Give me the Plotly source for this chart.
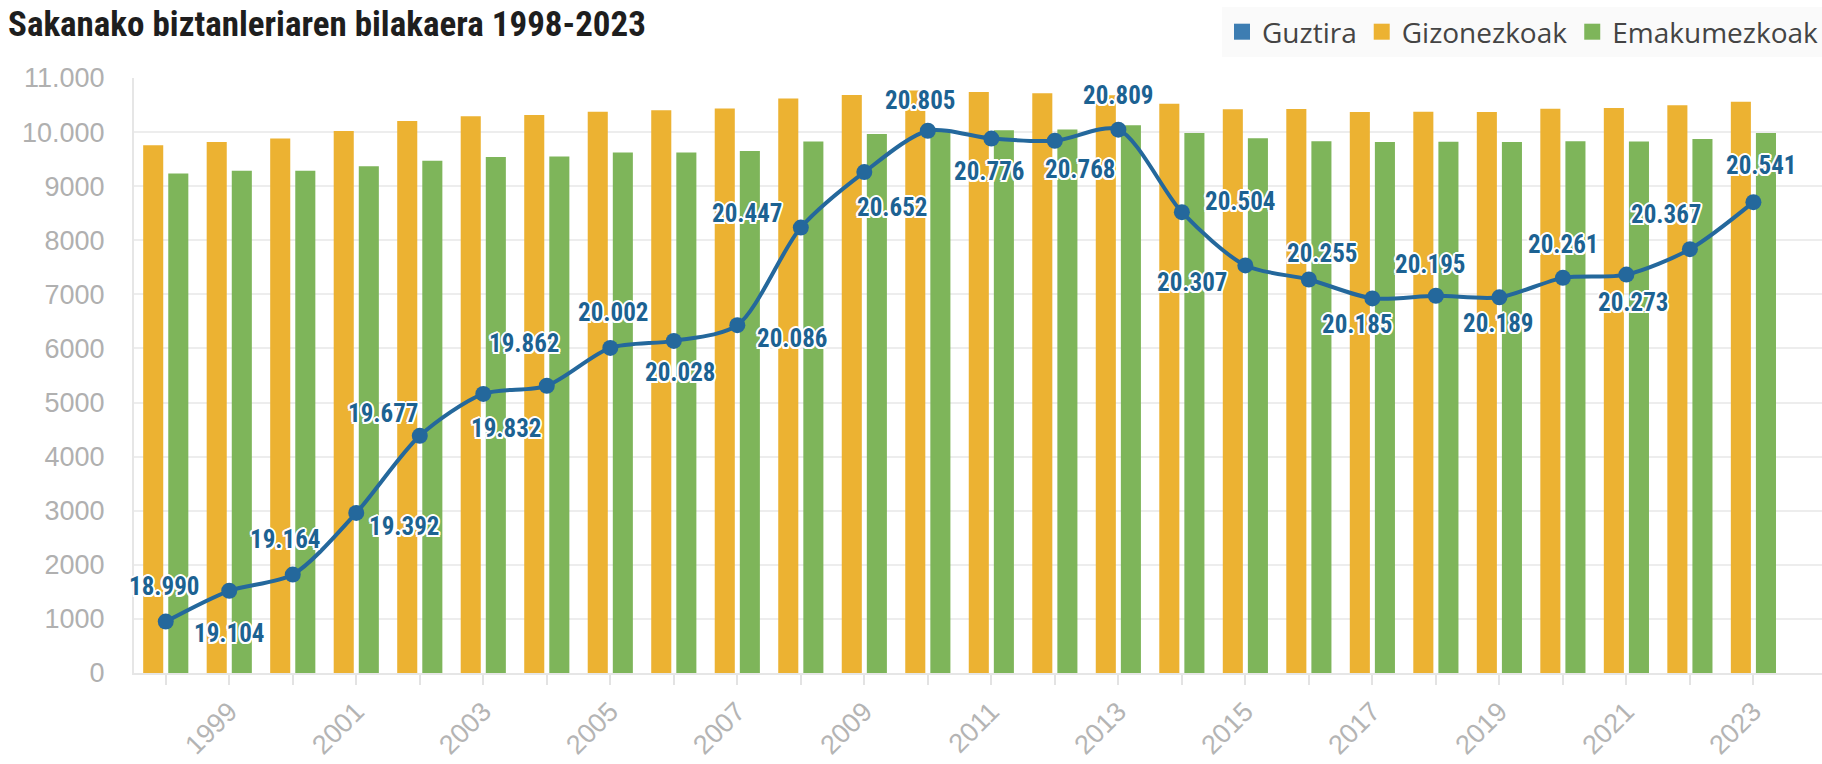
import plotly.graph_objects as go

# ---------------- data ----------------
years = [1998, 1999, 2000, 2001, 2002, 2003, 2004, 2005, 2006, 2007, 2008, 2009, 2010,
         2011, 2012, 2013, 2014, 2015, 2016, 2017, 2018, 2019, 2020, 2021, 2022, 2023]
guztira = [18990, 19104, 19164, 19392, 19677, 19832, 19862, 20002, 20028, 20086, 20447, 20652, 20805,
           20776, 20768, 20809, 20504, 20307, 20255, 20185, 20195, 20189, 20261, 20273, 20367, 20541]
gizonezkoak = [9757, 9818, 9880, 10022, 10206, 10292, 10315, 10377, 10404, 10436, 10620, 10685, 10770,
               10741, 10720, 10683, 10522, 10420, 10425, 10370, 10375, 10372, 10430, 10445, 10495, 10560]
emakumezkoak = [9233, 9286, 9284, 9370, 9471, 9540, 9547, 9625, 9624, 9650, 9827, 9967, 10035,
                10035, 10048, 10126, 9982, 9887, 9830, 9815, 9820, 9817, 9831, 9828, 9872, 9981]

series_names = ["Guztira", "Gizonezkoak", "Emakumezkoak"]

y_tick_vals = [0, 1000, 2000, 3000, 4000, 5000, 6000, 7000, 8000, 9000, 10000, 11000]
y_tick_text = ["0", "1000", "2000", "3000", "4000", "5000", "6000", "7000", "8000", "9000", "10.000", "11.000"]
x_tick_text = ["", "1999", "", "2001", "", "2003", "", "2005", "", "2007", "", "2009", "",
               "2011", "", "2013", "", "2015", "", "2017", "", "2019", "", "2021", "", "2023"]

# label offsets (px) relative to each point: style only
label_offsets = [(-2, 35), (0, -43), (-8, 35), (48, -14), (-37, 22), (23, -35), (-23, 42), (3, 35),
                 (6, -32), (55, -13), (-54, 14), (28, -35), (-8, 30), (-2, -33), (25, -29), (0, 34),
                 (58, 11), (-53, -17), (13, 26), (-15, -26), (-6, 31), (-1, -26), (0, 33), (7, -28),
                 (-24, 35), (8, 37)]

# ---------------- style ----------------
ORANGE = "#ECB232"
GREEN = "#7EB55A"
BLUE_LINE = "#24689C"
BLUE_LEG = "#3D7DB2"
LABEL_BLUE = "#1C6292"
COND = "Liberation Sans Narrow, Arial Narrow, Roboto Condensed, DejaVu Sans Condensed, sans-serif"
OUTLINE = ("2px 0 0 #fff, -2px 0 0 #fff, 0 2px 0 #fff, 0 -2px 0 #fff, "
           "1.5px 1.5px 0 #fff, -1.5px -1.5px 0 #fff, 1.5px -1.5px 0 #fff, -1.5px 1.5px 0 #fff")


def fmt(v):
    return f"{v:,}".replace(",", ".")


fig = go.Figure()

# legend swatches
for nm, col in zip(series_names, [BLUE_LEG, ORANGE, GREEN]):
    fig.add_trace(go.Scatter(x=[None], y=[None], mode="markers", name=nm, hoverinfo="skip",
                             marker=dict(symbol="square", size=19, color=col, line=dict(width=0))))

fig.add_trace(go.Bar(x=years, y=gizonezkoak, name=series_names[1], showlegend=False,
                     marker=dict(color=ORANGE, line=dict(width=0))))
fig.add_trace(go.Bar(x=years, y=emakumezkoak, name=series_names[2], showlegend=False,
                     marker=dict(color=GREEN, line=dict(width=0))))

fig.add_trace(go.Scatter(x=years, y=guztira, yaxis="y2", mode="lines+markers", name=series_names[0],
                         showlegend=False, cliponaxis=False,
                         line=dict(color=BLUE_LINE, width=4, shape="spline", smoothing=0.8),
                         marker=dict(color=BLUE_LINE, size=16)))

annotations = []
for yr, v, (dx, dy) in zip(years, guztira, label_offsets):
    annotations.append(dict(x=yr, y=v, xref="x", yref="y2", text=fmt(v), showarrow=False,
                            xshift=dx, yshift=dy,
                            font=dict(family=COND, size=25, color=LABEL_BLUE, weight="bold", shadow=OUTLINE)))

fig.update_layout(
    width=1822, height=764,
    margin=dict(l=134, r=0, t=78, b=91, autoexpand=False),
    paper_bgcolor="white", plot_bgcolor="white",
    barmode="group", bargap=0.21, bargroupgap=0.2,
    title=dict(text="Sakanako biztanleriaren bilakaera 1998-2023", x=8 / 1822, xref="container",
               xanchor="left", y=1 - 24 / 764, yref="container", yanchor="middle",
               font=dict(family=COND, size=35, color="#1e1e1e", weight="bold")),
    legend=dict(orientation="h", x=(1222 - 134) / 1688, xanchor="left", y=(673 - 32) / 595, yanchor="middle",
                font=dict(family="Open Sans, sans-serif", size=28, color="#444444"),
                bgcolor="#fafafa", itemsizing="trace", traceorder="normal",
                itemwidth=30, tracegroupgap=0),
    xaxis=dict(range=[1997.5, 2024.08], tickmode="array", tickvals=years, ticktext=x_tick_text,
               tickangle=-45, ticks="outside", ticklen=10, tickwidth=1.5, tickcolor="#e3e3e3",
               tickfont=dict(family="Liberation Sans, Arial, sans-serif", size=27, color="#b4b4b4"),
               showgrid=False, showline=True, linecolor="#e6e6e6", linewidth=2, zeroline=False,
               fixedrange=True),
    yaxis=dict(range=[0, 11000], tickmode="array", tickvals=y_tick_vals, ticktext=y_tick_text,
               tickfont=dict(family="Liberation Sans, Arial, sans-serif", size=27, color="#b0b0b0"),
               showgrid=True, gridcolor="#ededed", gridwidth=2, zeroline=False,
               showline=True, linecolor="#e6e6e6", linewidth=2, ticks="", ticklabelstandoff=22,
               fixedrange=True),
    yaxis2=dict(range=[18800, 21000], overlaying="y", side="right", visible=False, fixedrange=True),
    annotations=annotations,
    showlegend=True,
)

fig.write_html("out.html", config={"displayModeBar": False},
               post_script="document.body.style.margin='0';")
